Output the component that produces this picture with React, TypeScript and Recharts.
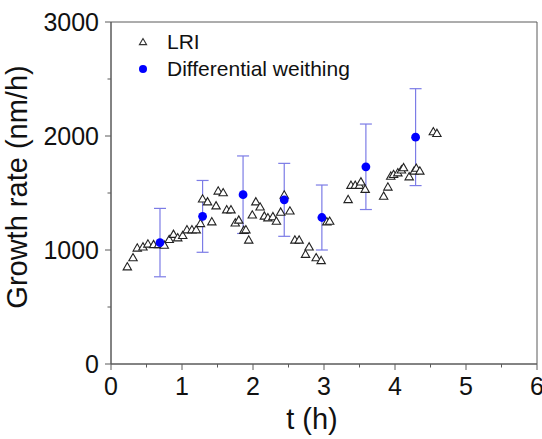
import { ScatterChart, Scatter, XAxis, YAxis, ErrorBar, ReferenceArea } from 'recharts';

// LRI measurements (t in hours, growth rate in nm/h)
const lriTime = [
  0.23, 0.31, 0.37, 0.45, 0.52, 0.6, 0.67, 0.75, 0.82, 0.88, 0.94, 1.01, 1.07, 1.14, 1.2, 1.26, 1.29,
  1.36, 1.42, 1.48, 1.51, 1.58, 1.63, 1.69, 1.75, 1.8, 1.87, 1.9, 1.94, 1.99, 2.04, 2.1, 2.16, 2.21,
  2.28, 2.33, 2.39, 2.44, 2.52, 2.59, 2.65, 2.74, 2.79, 2.89, 2.96, 3.04, 3.08, 3.34, 3.38, 3.44,
  3.5, 3.52, 3.58, 3.84, 3.9, 3.94, 3.98, 4.04, 4.09, 4.12, 4.2, 4.27, 4.3, 4.35, 4.54, 4.59,
];
const lriRate = [
  850, 930, 1015, 1025, 1050, 1045, 1045, 1040, 1090, 1135, 1105, 1125, 1175, 1175, 1175, 1230, 1445,
  1420, 1245, 1385, 1515, 1500, 1350, 1350, 1235, 1260, 1170, 1175, 1085, 1305, 1420, 1375, 1295, 1280,
  1290, 1250, 1330, 1480, 1340, 1085, 1085, 960, 1025, 930, 905, 1245, 1250, 1440, 1565, 1565,
  1565, 1595, 1530, 1470, 1550, 1645, 1660, 1675, 1700, 1720, 1640, 1690, 1715, 1690, 2035, 2020,
];

// differential weighing with error bars
const dwTime = [0.69, 1.29, 1.86, 2.44, 2.97, 3.59, 4.29];
const dwRate = [1065, 1295, 1485, 1440, 1285, 1730, 1990];
const dwErr = [300, 315, 340, 320, 285, 375, 425];

const xTicks = [0, 0.5, 1, 1.5, 2, 2.5, 3, 3.5, 4, 4.5, 5, 5.5, 6];
const yTicks = [0, 500, 1000, 1500, 2000, 2500, 3000];

const lriData = lriTime.map((t, i) => ({ t, rate: lriRate[i] }));
const dwData = dwTime.map((t, i) => ({ t, rate: dwRate[i], err: dwErr[i] }));

const AXIS = '#5a5a5a';
const FONT = '"Liberation Sans", Arial, sans-serif';

const Triangle = (props: any) => {
  const { cx, cy } = props;
  if (cx == null || cy == null) return null;
  return (
    <polygon
      points={`${cx},${cy - 4.5} ${cx - 4.2},${cy + 2.8} ${cx + 4.2},${cy + 2.8}`}
      fill="#fff"
      stroke="#222"
      strokeWidth={1.1}
    />
  );
};

const Dot = (props: any) => {
  const { cx, cy } = props;
  if (cx == null || cy == null) return null;
  return <circle cx={cx} cy={cy} r={4.4} fill="#0000ff" />;
};

const XTick = ({ x, y, payload }: any) => {
  const major = Number.isInteger(payload.value);
  return (
    <g>
      <line x1={x} x2={x} y1={y} y2={y + (major ? 6 : 3.5)} stroke={AXIS} />
      {major && (
        <text x={x} y={y + 31} textAnchor="middle" fontSize={25} fill="#111" fontFamily={FONT}>
          {payload.value}
        </text>
      )}
    </g>
  );
};

const YTick = ({ x, y, payload }: any) => {
  const major = payload.value % 1000 === 0;
  return (
    <g>
      <line x1={x - (major ? 6 : 3.5)} x2={x} y1={y} y2={y} stroke={AXIS} />
      {major && (
        <text x={x - 12} y={y + 9} textAnchor="end" fontSize={25} fill="#111" fontFamily={FONT}>
          {payload.value}
        </text>
      )}
    </g>
  );
};

const LegendBox = () => (
  <div
    style={{
      position: 'absolute',
      left: 136,
      top: 28,
      fontFamily: FONT,
      fontSize: 21,
      color: '#111',
      lineHeight: '27px',
      whiteSpace: 'nowrap',
    }}
  >
    <div style={{ display: 'flex', alignItems: 'center' }}>
      <svg width={14} height={14} style={{ marginRight: 17 }}>
        <polygon points="7,3.5 3.4,9.6 10.6,9.6" fill="#fff" stroke="#333" strokeWidth={1.1} />
      </svg>
      <span>LRI</span>
    </div>
    <div style={{ display: 'flex', alignItems: 'center' }}>
      <svg width={14} height={14} style={{ marginRight: 17 }}>
        <circle cx={7} cy={7} r={4} fill="#0000ff" />
      </svg>
      <span>Differential weithing</span>
    </div>
  </div>
);

export default function App() {
  return (
    <div style={{ position: 'absolute', left: 0, top: 0, width: 542, height: 439, background: '#fff' }}>
      <ScatterChart width={542} height={439} margin={{ top: 22, right: 5, bottom: 0, left: 0 }}>
        <XAxis
          type="number"
          dataKey="t"
          domain={[0, 6]}
          ticks={xTicks}
          interval={0}
          tickSize={0}
          tickMargin={0}
          tick={<XTick />}
          height={75}
          stroke={AXIS}
          label={{
            content: ({ viewBox }: any) => (
              <text x={viewBox.x + 201} y={viewBox.y + 65} textAnchor="middle" fontSize={29} fill="#111" fontFamily={FONT}>
                t (h)
              </text>
            ),
          }}
        />
        <YAxis
          type="number"
          dataKey="rate"
          domain={[0, 3000]}
          ticks={yTicks}
          interval={0}
          tickSize={0}
          tickMargin={0}
          tick={<YTick />}
          width={111}
          stroke={AXIS}
          label={{
            content: ({ viewBox }: any) => {
              const cx = viewBox.x + 27;
              const cy = viewBox.y + viewBox.height / 2 - 6;
              return (
                <text x={cx} y={cy} transform={`rotate(-90 ${cx} ${cy})`} textAnchor="middle" fontSize={29} fill="#111" fontFamily={FONT}>
                  Growth rate (nm/h)
                </text>
              );
            },
          }}
        />
        <ReferenceArea x1={0} x2={6} y1={0} y2={3000} fill="none" stroke={AXIS} strokeOpacity={1} />
        <Scatter name="LRI" data={lriData} shape={<Triangle />} isAnimationActive={false} />
        <Scatter name="Differential weithing" data={dwData} shape={<Dot />} isAnimationActive={false}>
          <ErrorBar dataKey="err" direction="y" width={6} stroke="#7c7ce6" strokeWidth={1.2} />
        </Scatter>
      </ScatterChart>
      <LegendBox />
    </div>
  );
}
